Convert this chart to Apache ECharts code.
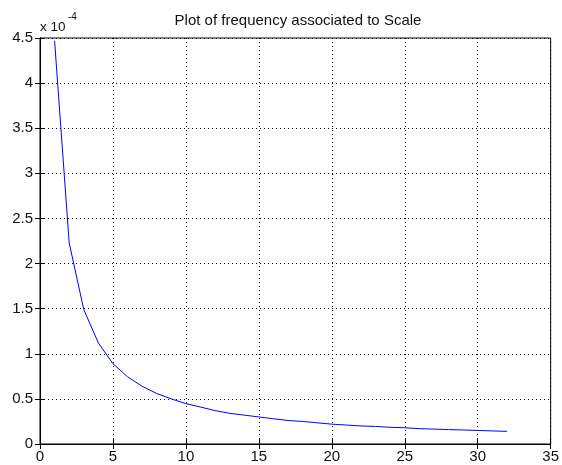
<!DOCTYPE html>
<html><head><meta charset="utf-8">
<script src="https://cdn.jsdelivr.net/npm/echarts@6/dist/echarts.min.js"></script>
<style>html,body{margin:0;padding:0;background:#fff}#c{width:562px;height:465px}</style>
</head><body><div id="c"></div>
<script>
// Scale values (x) and associated frequency (in units of 1e-4)
const scales = [1,2,3,4,5,6,7,8,9,10,11,12,13,14,15,16,17,18,19,20,21,22,23,24,25,26,27,28,29,30,31,32];
const freq = [4.47,2.23,1.49,1.12,0.89,0.745,0.64,0.56,0.50,0.447,0.41,0.37,0.34,0.32,0.30,0.28,0.26,0.25,0.235,0.22,0.21,0.20,0.195,0.185,0.18,0.17,0.165,0.16,0.155,0.15,0.145,0.14];
const titleText = 'Plot of frequency associated to Scale';
const expText = ['x 10', '-4'];
const xTicks = {min:0, max:35, interval:5};
const yTicks = {min:0, max:4.5, interval:0.5};

const font = 'Liberation Sans, Arial, sans-serif';
const chart = echarts.init(document.getElementById('c'));
const grid = {left:40, right:5, top:38, bottom:21, show:true, borderColor:'#000', borderWidth:1, backgroundColor:'#fff'};
const tick = {show:true, inside:true, length:5, lineStyle:{color:'#000', width:1}};
const split = {show:true, lineStyle:{color:'#000', width:1, type:[1,3]}};
chart.setOption({
  animation:false,
  backgroundColor:'#fff',
  grid:grid,
  xAxis:[
    {type:'value', min:xTicks.min, max:xTicks.max, interval:xTicks.interval, position:'bottom',
     axisLine:{show:true, lineStyle:{color:'#000'}}, axisTick:tick, splitLine:split,
     axisLabel:{fontFamily:font, fontSize:15, color:'#111', margin:5, formatter:v=>String(v)}},
    {type:'value', min:xTicks.min, max:xTicks.max, interval:xTicks.interval, position:'top',
     axisLine:{show:true, lineStyle:{color:'#000'}}, axisTick:tick, splitLine:{show:false}, axisLabel:{show:false}}
  ],
  yAxis:[
    {type:'value', min:yTicks.min, max:yTicks.max, interval:yTicks.interval, position:'left',
     axisLine:{show:true, lineStyle:{color:'#000'}}, axisTick:tick, splitLine:split,
     axisLabel:{fontFamily:font, fontSize:15, color:'#111', margin:7, formatter:v=>String(v)}},
    {type:'value', min:yTicks.min, max:yTicks.max, interval:yTicks.interval, position:'right',
     axisLine:{show:true, lineStyle:{color:'#000'}}, axisTick:tick, splitLine:{show:false}, axisLabel:{show:false}}
  ],
  graphic:[
    {type:'text', x:298, y:13, style:{text:titleText, align:'center', verticalAlign:'top', fontFamily:font, fontSize:15, fill:'#111'}},
    {type:'text', x:40, y:20, style:{text:expText[0], align:'left', verticalAlign:'top', fontFamily:font, fontSize:13.5, fill:'#111'}},
    {type:'text', x:68, y:12, style:{text:expText[1], align:'left', verticalAlign:'top', fontFamily:font, fontSize:10, fill:'#111'}}
  ],
  series:[{type:'line', data:scales.map((s,i)=>[s,freq[i]]), showSymbol:false, symbol:'none',
    lineStyle:{color:'#0000ff', width:1}, xAxisIndex:0, yAxisIndex:0}]
});
</script></body></html>
